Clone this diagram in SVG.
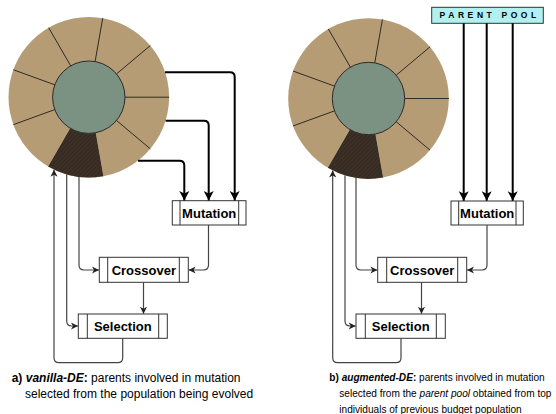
<svg xmlns="http://www.w3.org/2000/svg" width="556" height="414" viewBox="0 0 556 414">
<style>
.seg{fill:#b59c74;stroke:none}
.core{fill:#7b9282;stroke:#2a2a2a;stroke-width:1}
.div{stroke:#2e2a26;stroke-width:1;fill:none}
.dark{fill:url(#hatch);stroke:none}
.box{fill:#fff;stroke:#333;stroke-width:1}
.bar{stroke:#333;stroke-width:1}
.lbl{font-family:"Liberation Sans",Arial,sans-serif;font-weight:bold;font-size:13px;fill:#000;text-anchor:middle}
.thick{fill:none;stroke:#000;stroke-width:2;marker-end:url(#ahT)}
.thin{fill:none;stroke:#444;stroke-width:1.2;marker-end:url(#ahS)}
.cap{font-family:"Liberation Sans",Arial,sans-serif;fill:#000}
.pool{fill:#b2f0f0;stroke:#333;stroke-width:1}
.pooltxt{font-family:"Liberation Sans",Arial,sans-serif;font-weight:bold;font-size:8.5px;letter-spacing:3.6px;fill:#000}
</style>
<defs>
<pattern id="hatch" patternUnits="userSpaceOnUse" width="3" height="3" patternTransform="rotate(45)">
<rect width="3" height="3" fill="#3d3027"/>
<line x1="0" y1="0" x2="0" y2="3" stroke="#2c221b" stroke-width="1.2"/>
</pattern>
<marker id="ahT" markerUnits="userSpaceOnUse" viewBox="-10 -6 11 12" refX="0" refY="0" markerWidth="11" markerHeight="12" orient="auto">
<path d="M0,0 L-9.5,-5 L-7,0 L-9.5,5 Z" fill="#000"/>
</marker>
<marker id="ahS" markerUnits="userSpaceOnUse" viewBox="-8 -5 9 10" refX="0" refY="0" markerWidth="9" markerHeight="10" orient="auto">
<path d="M0,0 L-7,-3.6 L-5,0 L-7,3.6 Z" fill="#222"/>
</marker>
<g id="wheel">
<circle class="seg" r="80.3"/>
<path class="dark" d="M-18.1 31.35 L-40.15 69.54 A80.3 80.3 0 0 0 13.94 79.08 L6.29 35.65 A36.2 36.2 0 0 1 -18.1 31.35 Z"/>
<path class="div" d="M36.2 0 L80.3 0 M27.73 -23.27 L61.51 -51.63 M6.28 -35.65 L13.94 -79.08 M-18.1 -31.35 L-40.15 -69.54 M-34.02 -12.38 L-75.46 -27.46 M-34.02 12.38 L-75.46 27.46 M-18.1 31.35 L-40.15 69.54 M6.29 35.65 L13.94 79.08 M27.73 23.27 L61.51 51.63"/>
<circle class="core" r="36.2"/>
</g>
</defs>

<g id="population-a"><use href="#wheel" transform="translate(88.8 97.2)"/></g>
<g id="population-b"><use href="#wheel" transform="translate(368.5 98.5)"/></g>

<g id="parent-pool">
<rect class="pool" x="431.7" y="7.3" width="111.6" height="16"/>
<text class="pooltxt" x="439.5" y="18.4">PARENT POOL</text>
</g>

<g id="mutation-a">
<rect class="box" x="172.3" y="200.7" width="73.7" height="24.3"/>
<line class="bar" x1="180" y1="200.7" x2="180" y2="225"/>
<line class="bar" x1="238.7" y1="200.7" x2="238.7" y2="225"/>
<text class="lbl" x="209.2" y="217.6">Mutation</text>
</g>
<g id="crossover-a">
<rect class="box" x="99.3" y="257.3" width="89" height="25"/>
<line class="bar" x1="107.7" y1="257.3" x2="107.7" y2="282.3"/>
<line class="bar" x1="179.3" y1="257.3" x2="179.3" y2="282.3"/>
<text class="lbl" x="143.8" y="274.5">Crossover</text>
</g>
<g id="selection-a">
<rect class="box" x="78.3" y="314" width="89" height="24.3"/>
<line class="bar" x1="87.3" y1="314" x2="87.3" y2="338.3"/>
<line class="bar" x1="158.7" y1="314" x2="158.7" y2="338.3"/>
<text class="lbl" x="122.8" y="330.8">Selection</text>
</g>

<g id="mutation-b">
<rect class="box" x="451" y="201" width="72.3" height="24"/>
<line class="bar" x1="458.7" y1="201" x2="458.7" y2="225"/>
<line class="bar" x1="516" y1="201" x2="516" y2="225"/>
<text class="lbl" x="487.2" y="217.6">Mutation</text>
</g>
<g id="crossover-b">
<rect class="box" x="377.7" y="257.3" width="89" height="25"/>
<line class="bar" x1="386.7" y1="257.3" x2="386.7" y2="282.3"/>
<line class="bar" x1="457.7" y1="257.3" x2="457.7" y2="282.3"/>
<text class="lbl" x="422.2" y="274.5">Crossover</text>
</g>
<g id="selection-b">
<rect class="box" x="356" y="314" width="89.3" height="24.3"/>
<line class="bar" x1="365.3" y1="314" x2="365.3" y2="338.3"/>
<line class="bar" x1="436.3" y1="314" x2="436.3" y2="338.3"/>
<text class="lbl" x="400.7" y="330.8">Selection</text>
</g>

<g id="connectors">
<path class="thick" d="M165 72.3 H230 Q234.7 72.3 234.7 77 V200.5"/>
<path class="thick" d="M165.6 120.7 H204 Q208.7 120.7 208.7 125.4 V200.5"/>
<path class="thick" d="M138 160.7 H179.6 Q184.3 160.7 184.3 165.4 V200.5"/>
<path class="thin" d="M208.5 225 V265 Q208.5 270 203.5 270 H188.6"/>
<path class="thin" d="M143.5 282.3 V313.8"/>
<path class="thin" d="M122.7 338.3 V357.7 Q122.7 362.7 117.7 362.7 H59 Q54 362.7 54 357.7 V169.8"/>
<path class="thin" d="M79 176.9 V265 Q79 270 84 270 H99"/>
<path class="thin" d="M66.7 174.4 V321 Q66.7 326 71.7 326 H78"/>

<path class="thick" d="M463.7 23.3 V200.8"/>
<path class="thick" d="M486.7 23.3 V200.8"/>
<path class="thick" d="M512.7 23.3 V200.8"/>
<path class="thin" d="M487 225 V265 Q487 270 482 270 H467"/>
<path class="thin" d="M421.5 282.3 V313.8"/>
<path class="thin" d="M401 338.3 V357.7 Q401 362.7 396 362.7 H337.7 Q332.7 362.7 332.7 357.7 V170.6"/>
<path class="thin" d="M356 177.8 V265 Q356 270 361 270 H377.4"/>
<path class="thin" d="M345 175.3 V321 Q345 326 350 326 H355.7"/>
</g>

<g id="caption-a" class="cap" font-size="12">
<text x="11.7" y="381.5"><tspan font-weight="bold">a) </tspan><tspan font-weight="bold" font-style="italic">vanilla-DE</tspan><tspan font-weight="bold">:</tspan> parents involved in mutation</text>
<text x="25" y="397.5">selected from the population being evolved</text>
</g>
<g id="caption-b" class="cap" font-size="10.1">
<text x="329.3" y="381.3"><tspan font-weight="bold">b) </tspan><tspan font-weight="bold" font-style="italic">augmented-DE</tspan><tspan font-weight="bold">:</tspan> parents involved in mutation</text>
<text x="339.3" y="397.3">selected from the <tspan font-style="italic">parent pool</tspan> obtained from top</text>
<text x="339.3" y="413">individuals of previous budget population</text>
</g>
</svg>
